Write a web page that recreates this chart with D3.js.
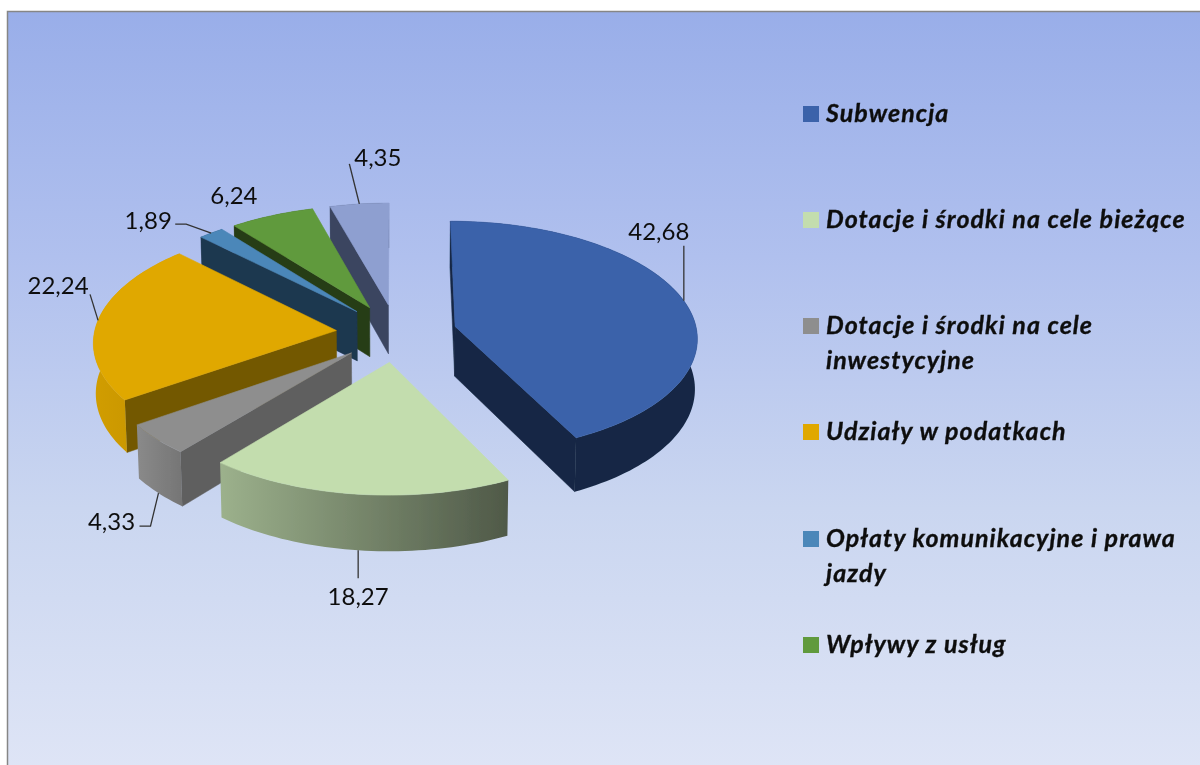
<!DOCTYPE html>
<html>
<head>
<meta charset="utf-8">
<script src="https://cdn.jsdelivr.net/npm/d3@7"></script>
<style>
  html, body { margin: 0; padding: 0; background: #fff; }
  svg { display: block; }
  text { font-family: Lato, "Open Sans", sans-serif; fill: #111; }
</style>
</head>
<body>
<div id="chart"></div>
<script>
// dane
const values = [42.68, 18.27, 4.33, 22.24, 1.89, 6.24, 4.35]
const valueLabels = ["42,68", "18,27", "4,33", "22,24", "1,89", "6,24", "4,35"]
// legenda ma tylko 6 wpisow, siodmy jest uciety w oryginale
const legendNames = [
    ["Subwencja"],
    ["Dotacje i środki na cele bieżące"],
    ["Dotacje i środki na cele", "inwestycyjne"],
    ["Udziały w podatkach"],
    ["Opłaty komunikacyjne i prawa", "jazdy"],
    ["Wpływy z usług"]
]

// kolory: gora, sciana boczna, obwod od lewej do prawej
const topColors = ["#3a62aa", "#c3ddae", "#8e8e8e", "#e0a800", "#4c87b9", "#619a3d", "#8e9fd0"]
const sideColors = ["#162844", "#5a6651", "#5e5e5e", "#735900", "#1f374f", "#283d17", "#3a4560"]
const rimFrom = ["#162844", "#9cb18c", "#8a8a8a", "#d19d00", "#1f374f", "#283d17", "#3a4560"]
const rimTo = ["#162844", "#4f5948", "#767676", "#c29100", "#1f374f", "#283d17", "#3a4560"]

// linie odniesienia: przesuniecia od punktu na obwodzie, null = bez linii
const leaderOffsets = [
    [[0, 0], [0, -55]],
    [[0, 0], [0, 28]],
    [[0, 0], [-8, 33], [-19, 33]],
    [[0, 0], [-8, -26]],
    [[0, 0], [-25, -9], [-36, -9]],
    null,
    [[0, 0], [-10, -40]]
]
const labelOffsets = [[-25, -61], [0, 55], [-47, 37], [-40, -26], [-63, -4], [-38, -12], [18.5, -38]]

const width = 1200, height = 765
const cx = 396.5, cy = 333     // srodek kola
const rx = 242, ry = 115.6     // promienie elipsy
const persp = 0.088            // sila perspektywy
const explode = 0.25           // wysuniecie kawalkow
const depth = 50, bottomScale = 0.992

let svg = d3.select("#chart").append("svg")
    .attr("width", width)
    .attr("height", height)
let defs = svg.append("defs")

let bg = defs.append("linearGradient").attr("id", "bg")
    .attr("x1", 0).attr("y1", 0).attr("x2", 0).attr("y2", 1)
bg.append("stop").attr("offset", "0%").attr("stop-color", "#99aee9")
bg.append("stop").attr("offset", "32%").attr("stop-color", "#b0c0ee")
bg.append("stop").attr("offset", "65%").attr("stop-color", "#cad6f0")
bg.append("stop").attr("offset", "100%").attr("stop-color", "#dfe5f6")

defs.append("filter").attr("id", "soft")
    .attr("x", "-5%").attr("y", "-5%").attr("width", "110%").attr("height", "110%")
    .append("feGaussianBlur").attr("stdDeviation", 0.4)

svg.append("rect")
    .attr("x", 7.5).attr("y", 11.5)
    .attr("width", width).attr("height", height)
    .attr("fill", "url(#bg)")
    .attr("stroke", "#868686")
    .attr("stroke-width", 1.5)

// rzut z plaszczyzny kola na ekran
function project(X, V, bottom) {
    const s = 1 / (1 + persp * V)
    let x = cx + rx * X * s
    let y = cy - ry * V * s
    if (bottom) {
        x = cx + (x - cx) * bottomScale
        y = y + depth * s
    }
    return [x, y]
}

const pie = d3.pie().sort(null).value(d => d)
const arcs = pie(values).map((d, i) => {
    const mid = (d.startAngle + d.endAngle) / 2
    return {
        i: i,
        start: d.startAngle,
        end: d.endAngle,
        mid: mid,
        ox: explode * Math.sin(mid),
        ov: explode * Math.cos(mid)
    }
})

function rimPoint(a, angle, bottom) {
    return project(a.ox + Math.sin(angle), a.ov + Math.cos(angle), bottom)
}
function rimPoints(a, bottom) {
    const n = Math.max(4, Math.ceil((a.end - a.start) * 40))
    return d3.range(n + 1).map(k => rimPoint(a, a.start + (a.end - a.start) * k / n, bottom))
}

const line = d3.line()
const closed = pts => line(pts) + "Z"

// od tylu do przodu
const order = arcs.slice().sort((p, q) => Math.cos(q.mid) - Math.cos(p.mid))

let slices = svg.append("g")
    .attr("filter", "url(#soft)")
    .selectAll("g")
    .data(order)
    .enter().append("g")

slices.each(function(a) {
    const g = d3.select(this)
    const apexTop = project(a.ox, a.ov, false)
    const apexBottom = project(a.ox, a.ov, true)
    const topRim = rimPoints(a, false)
    const bottomRim = rimPoints(a, true)

    const grad = defs.append("linearGradient")
        .attr("id", "rim" + a.i)
        .attr("gradientUnits", "userSpaceOnUse")
        .attr("x1", d3.min(topRim, p => p[0])).attr("y1", 0)
        .attr("x2", d3.max(topRim, p => p[0])).attr("y2", 0)
    grad.append("stop").attr("offset", "0%").attr("stop-color", rimFrom[a.i])
    grad.append("stop").attr("offset", "100%").attr("stop-color", rimTo[a.i])

    // sciany boczne, tylko te widoczne spod gornej powierzchni
    let walls = []
    if (Math.sin(a.start) < 0.001) walls.push(a.start)
    if (Math.sin(a.end) > 0.001) walls.push(a.end)
    walls.forEach(angle => {
        g.append("path")
            .attr("d", closed([apexTop, rimPoint(a, angle, false), rimPoint(a, angle, true), apexBottom]))
            .attr("fill", sideColors[a.i])
            .attr("stroke", sideColors[a.i])
            .attr("stroke-width", 0.5)
    })
    // obwod
    g.append("path")
        .attr("d", closed(topRim.concat(bottomRim.slice().reverse())))
        .attr("fill", "url(#rim" + a.i + ")")
    // gora
    g.append("path")
        .attr("d", closed([apexTop].concat(topRim)))
        .attr("fill", topColors[a.i])
        .attr("stroke", topColors[a.i])
        .attr("stroke-width", 0.6)
})

// etykiety wartosci
let labels = svg.append("g").attr("filter", "url(#soft)")
arcs.forEach(a => {
    // przednie kawalki maja linie przy dolnej krawedzi
    const front = Math.cos(a.mid) < -0.5
    const anchor = rimPoint(a, a.mid, front)
    const off = leaderOffsets[a.i]
    if (off) {
        labels.append("path")
            .attr("d", line(off.map(o => [anchor[0] + o[0], anchor[1] + o[1]])))
            .attr("fill", "none")
            .attr("stroke", "#333")
            .attr("stroke-width", 1.3)
    }
    labels.append("text")
        .attr("x", anchor[0] + labelOffsets[a.i][0])
        .attr("y", anchor[1] + labelOffsets[a.i][1])
        .attr("text-anchor", "middle")
        .attr("font-size", 24)
        .text(valueLabels[a.i])
})

// legenda
const legendLineHeight = 35
const legendCenters = [114, 220, 326, 432, 539, 645]
let legend = svg.append("g").attr("filter", "url(#soft)")
    .selectAll("g")
    .data(legendNames)
    .enter().append("g")
legend.append("rect")
    .attr("x", 803)
    .attr("y", (d, i) => legendCenters[i] - 8)
    .attr("width", 16).attr("height", 16)
    .attr("fill", (d, i) => topColors[i])
legend.each(function(d, i) {
    d.forEach((row, k) => {
        d3.select(this).append("text")
            .attr("x", 826)
            .attr("y", legendCenters[i] + 8 + k * legendLineHeight)
            .attr("font-size", 25)
            .attr("font-weight", 700)
            .attr("font-style", "italic")
            .attr("letter-spacing", 1.05)
            .attr("stroke", "#111")
            .attr("stroke-width", 0.35)
            .text(row)
    })
})
</script>
</body>
</html>
